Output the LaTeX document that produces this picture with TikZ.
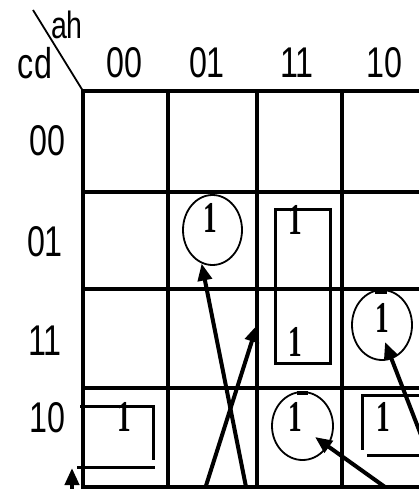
\documentclass[tikz,border=0pt]{standalone}
\usepackage{fontspec}
\setmainfont{Liberation Sans}
\newfontfamily\onefont{Liberation Serif}
\usetikzlibrary{shapes.geometric,arrows.meta}
\newcommand{\lbtxt}[1]{\scalebox{0.75}[1]{#1}}
\newcommand{\onetxt}{\scalebox{0.62}[1]{\onefont\bfseries 1}}
\begin{document}
\begin{tikzpicture}[x=1pt,y=-1pt,
  lbl/.style={inner sep=0pt, font=\fontsize{43}{43}\selectfont},
  smalllbl/.style={inner sep=0pt, font=\fontsize{38}{38}\selectfont},
  one/.style={inner sep=0pt, font=\fontsize{44}{44}\selectfont},
  gridline/.style={line width=3.5pt},
  loop/.style={draw, ellipse, line width=1.8pt, inner sep=0pt},
  grp/.style={line width=3pt},
  arr/.style={line width=4pt, -{Triangle[length=17pt,width=14pt]}}
]
\useasboundingbox (0,0) rectangle (419,489);
\clip (0,0) rectangle (419,489);
% corner
\draw[line width=1.8pt] (33,10) -- (83,91);
\node[smalllbl] (ah) at (67,25) {\lbtxt{ah}};
\node[lbl] (cd) at (35,63) {\lbtxt{cd}};
% column labels
\node[lbl] (c00) at (124.5,63) {\lbtxt{00}};
\node[lbl] (c01) at (207,63) {\lbtxt{01}};
\node[lbl] (c11) at (297,63) {\lbtxt{11}};
\node[lbl] (c10) at (384.5,63) {\lbtxt{10}};
% row labels
\node[lbl] (r00) at (47.5,141) {\lbtxt{00}};
\node[lbl] (r01) at (45,242) {\lbtxt{01}};
\node[lbl] (r11) at (45,341) {\lbtxt{11}};
\node[lbl] (r10) at (47.5,417.5) {\lbtxt{10}};
% grid
\foreach \yy in {91,192,289,388,487} \draw[gridline] (81.25,\yy) -- (430,\yy);
\foreach \xx in {83,168,257,342} \draw[gridline] (\xx,89.25) -- (\xx,495);
% groups
\node[loop, minimum width=59pt, minimum height=70pt] (g1) at (212.5,230) {};
\node[one] (o1) at (210,218) {\onetxt};
\node[draw, grp, minimum width=55pt, minimum height=154pt, inner sep=0pt] (g2) at (302.5,286) {};
\node[one] (o2) at (295,219.5) {\onetxt};
\node[one] (o3) at (295,342) {\onetxt};
\node[loop, minimum width=60pt, minimum height=70pt] (g3) at (382,325) {};
\node[one] (o4) at (382.5,317.5) {\onetxt};
\node[loop, minimum width=61pt, minimum height=68pt] (g4) at (302.5,426) {};
\node[one] (o5) at (295,417) {\onetxt};
\draw[line width=4pt] (375,292) -- (387,292);
\draw[line width=4pt] (297,393) -- (308,393);
% row 10 col 10 open box
\draw[grp] (430,395) -- (362,395) -- (362,450);
\draw[grp] (367,455) -- (430,455);
\node[one] (o6) at (383,417) {\onetxt};
% row 10 col 00 open box
\draw[grp] (80,406) -- (153,406) -- (153,460);
\draw[grp] (77,467) -- (155,467);
\node[one] (o7) at (124,417) {\onetxt};
% arrows
\coordinate (s1) at (247,492);
\coordinate (s2) at (204,492);
\coordinate (t2) at (257,325);
\coordinate (s3) at (392,492);
\coordinate (t3) at (315,437);
\coordinate (s4) at (443,492);
\coordinate (t4) at (385,342);
\coordinate (s5) at (72,492);
\coordinate (t5) at (72,468);
\draw[arr] (s1) -- (g1.252);
\draw[arr] (s2) -- (t2);
\draw[arr] (s3) -- (t3);
\draw[arr] (s4) -- (t4);
\draw[arr] (s5) -- (t5);
\end{tikzpicture}
\end{document}
